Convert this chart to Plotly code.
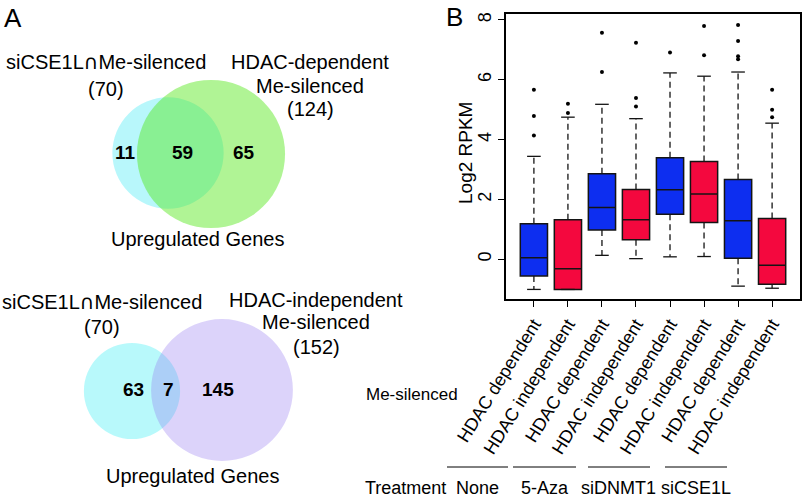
import plotly.graph_objects as go

# ---------------- data ----------------
# Panel A: Venn diagrams
venn1_names = [["siCSE1L∩Me-silenced", "(70)"], ["HDAC-dependent", "Me-silenced", "(124)"]]
venn1_sizes = [70, 124]
venn1_regions = [11, 59, 65]

venn2_names = [["siCSE1L∩Me-silenced", "(70)"], ["HDAC-independent", "Me-silenced", "(152)"]]
venn2_sizes = [70, 152]
venn2_regions = [63, 7, 145]

venn_title = "Upregulated Genes"

# Panel B: boxplot statistics (Log2 RPKM)
box_labels = ["HDAC dependent", "HDAC independent"] * 4
treatments = ["None", "5-Aza", "siDNMT1", "siCSE1L"]
q1 = [-0.56, -1.01, 0.98, 0.65, 1.50, 1.23, 0.03, -0.84]
median = [0.05, -0.32, 1.73, 1.32, 2.32, 2.18, 1.29, -0.20]
q3 = [1.19, 1.32, 2.86, 2.33, 3.39, 3.27, 2.67, 1.36]
whisker_low = [-1.01, -1.01, 0.13, 0.02, 0.08, 0.09, -0.90, -0.97]
whisker_high = [3.44, 4.75, 5.18, 4.70, 6.23, 6.12, 6.26, 4.55]
outliers = [
    [5.67, 4.79, 4.14],
    [5.20, 4.89],
    [7.57, 6.26],
    [7.24, 5.39, 5.11],
    [6.91],
    [7.80, 6.82],
    [7.83, 7.30, 6.79, 6.69],
    [5.67, 5.00, 4.75],
]

# ---------------- layout helpers ----------------
W, H = 802, 500
def px(x):
    return x / W
def py(y):
    return 1 - y / H

BLUE = "#0d2ef0"
RED = "#f4083e"
EDGE = "#141414"
FONT = "Liberation Sans, Arial, sans-serif"

fig = go.Figure()

positions = list(range(1, len(box_labels) + 1))
dep_idx = [i for i in range(len(box_labels)) if i % 2 == 0]
ind_idx = [i for i in range(len(box_labels)) if i % 2 == 1]

# whiskers (dashed)
wx, wy = [], []
for i, p in enumerate(positions):
    wx += [p, p, None, p, p, None]
    wy += [q3[i], whisker_high[i], None, q1[i], whisker_low[i], None]
fig.add_trace(go.Scatter(x=wx, y=wy, mode="lines", line=dict(color=EDGE, width=1.3, dash="6px,4px"),
                         hoverinfo="skip", showlegend=False))
# staples
sx, sy = [], []
for i, p in enumerate(positions):
    sx += [p - 0.2, p + 0.2, None, p - 0.2, p + 0.2, None]
    sy += [whisker_high[i], whisker_high[i], None, whisker_low[i], whisker_low[i], None]
fig.add_trace(go.Scatter(x=sx, y=sy, mode="lines", line=dict(color=EDGE, width=1.3),
                         hoverinfo="skip", showlegend=False))

for idx, col in ((dep_idx, BLUE), (ind_idx, RED)):
    fig.add_trace(go.Box(
        x=[positions[i] for i in idx],
        q1=[q1[i] for i in idx],
        median=[median[i] for i in idx],
        q3=[q3[i] for i in idx],
        lowerfence=[q1[i] for i in idx],
        upperfence=[q3[i] for i in idx],
        width=0.8, whiskerwidth=0,
        fillcolor=col, line=dict(color=EDGE, width=1.5),
        showlegend=False, boxpoints=False,
    ))

ox, oy = [], []
for i, p in enumerate(positions):
    for v in outliers[i]:
        ox.append(p)
        oy.append(v)
fig.add_trace(go.Scatter(x=ox, y=oy, mode="markers", marker=dict(color="black", size=4),
                         showlegend=False))

fig.update_layout(
    width=W, height=H, autosize=False,
    margin=dict(l=0, r=0, t=0, b=0, pad=0, autoexpand=False),
    paper_bgcolor="white", plot_bgcolor="white",
    font=dict(family=FONT, color="black", size=17),
    boxmode="overlay",
    xaxis=dict(domain=[px(506), px(800)], range=[0.18, 8.82],
               tickmode="array", tickvals=positions, ticktext=box_labels,
               tickangle=-58, ticks="outside", ticklen=6, tickcolor="black",
               tickfont=dict(size=18),
               showline=True, mirror=True, linecolor="black", linewidth=1.5,
               showgrid=False, zeroline=False, fixedrange=True),
    yaxis=dict(domain=[py(299), py(14)], range=[-1.33, 8.2],
               tickmode="array", tickvals=[0, 2, 4, 6, 8],
               tickangle=-90, ticks="outside", ticklen=6, tickcolor="black",
               tickfont=dict(size=18),
               showline=True, mirror=True, linecolor="black", linewidth=1.5,
               showgrid=False, zeroline=False, fixedrange=True),
)

ann = []
shapes = []
# panel letters
ann.append(dict(x=px(13), y=py(18), text="A", font=dict(size=26)))
ann.append(dict(x=px(454), y=py(17), text="B", font=dict(size=26)))
ann.append(dict(x=px(465), y=py(153), text="Log2 RPKM", textangle=-90, font=dict(size=19)))

VFONT = 20
def fmt(s):
    return s.replace("∩", '<span style="font-family:DejaVu Sans">∩</span>')

# Venn diagrams
def add_venn(names, sizes, regions, k, centers, cols, name_pos, region_pos, title_pos):
    for (cx, cy), n, col in zip(centers, sizes, cols):
        r = k * n ** 0.5
        shapes.append(dict(type="circle", xref="paper", yref="paper",
                           x0=px(cx - r), x1=px(cx + r), y0=py(cy + r), y1=py(cy - r),
                           fillcolor=col, line=dict(width=0), layer="below"))
    for lines, (x, ys) in zip(names, name_pos):
        for ln, y in zip(lines, ys):
            ann.append(dict(x=px(x), y=py(y), text=fmt(ln), font=dict(size=VFONT)))
    for v, (x, y) in zip(regions, region_pos):
        ann.append(dict(x=px(x), y=py(y), text="<b>%d</b>" % v, font=dict(size=19)))
    ann.append(dict(x=px(title_pos[0]), y=py(title_pos[1]), text=venn_title, font=dict(size=VFONT)))

add_venn(venn1_names, venn1_sizes, venn1_regions, 6.65,
         [(168, 153), (211, 154)],
         ["rgba(0,225,240,0.28)", "rgba(80,230,20,0.45)"],
         [(106, [62, 89]), (310, [62, 86, 109])],
         [(125, 152), (182, 152), (244, 152)],
         (197, 239))
add_venn(venn2_names, venn2_sizes, venn2_regions, 5.75,
         [(132, 391), (222, 390)],
         ["rgba(0,235,240,0.28)", "rgba(150,120,240,0.33)"],
         [(102, [302, 327]), (316, [300, 322, 347])],
         [(133, 389), (168, 389), (218, 389)],
         (192, 476))

# Row labels under panel B
ann.append(dict(x=px(412), y=py(394), text="Me-silenced"))
ann.append(dict(x=px(405), y=py(488), text="Treatment", font=dict(size=18)))
group_centers = [478, 545, 618, 696]
group_lines = [(447, 508), (513, 576), (588, 650), (665, 727)]
for t, c, (a, b) in zip(treatments, group_centers, group_lines):
    ann.append(dict(x=px(c), y=py(488), text=t, font=dict(size=18)))
    shapes.append(dict(type="line", xref="paper", yref="paper", x0=px(a), x1=px(b),
                       y0=py(467), y1=py(467), line=dict(color="black", width=1)))

for a in ann:
    a.setdefault("xref", "paper")
    a.setdefault("yref", "paper")
    a.setdefault("showarrow", False)
    a.setdefault("xanchor", "center")
    a.setdefault("yanchor", "middle")
fig.update_layout(annotations=ann, shapes=shapes)

fig.write_html("out.html", config={"displayModeBar": False},
               post_script="document.body.style.margin='0';document.body.style.overflow='hidden';")
